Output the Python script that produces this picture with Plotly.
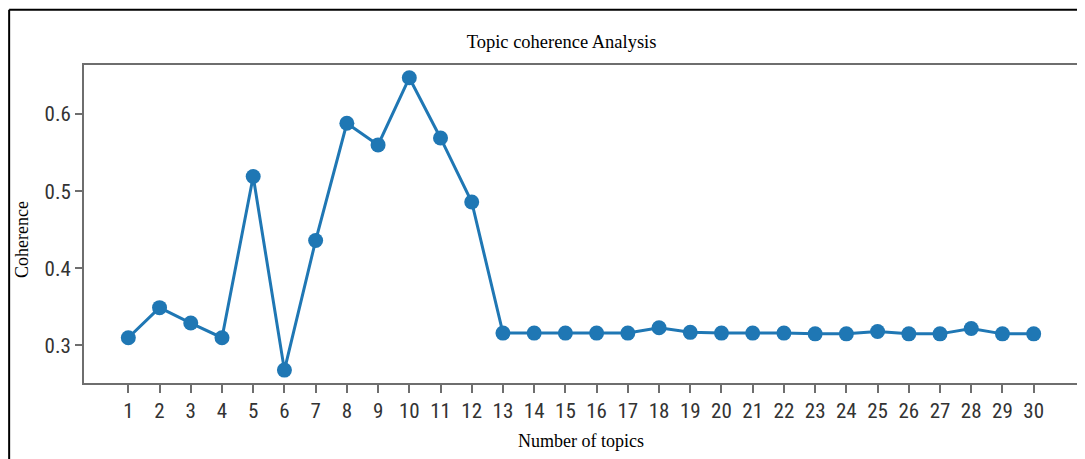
import plotly.graph_objects as go

topics = list(range(1, 31))
coherence = [0.310, 0.349, 0.329, 0.310, 0.519, 0.268, 0.436, 0.588, 0.560, 0.647,
             0.569, 0.486, 0.316, 0.316, 0.316, 0.316, 0.316, 0.323, 0.317, 0.316,
             0.316, 0.316, 0.315, 0.315, 0.318, 0.315, 0.315, 0.322, 0.315, 0.315]
y_ticks = [0.3, 0.4, 0.5, 0.6]
y_tick_labels = ["0.3", "0.4", "0.5", "0.6"]

BLUE = "#1f77b4"
AX = "#6e6e6e"
tick_font = dict(family="Roboto Condensed, Liberation Sans Narrow, DejaVu Sans Condensed, Roboto, sans-serif",
                 size=21, color="#333333")
serif = "Liberation Serif, Times New Roman, serif"

fig = go.Figure()
fig.add_trace(go.Scatter(
    x=topics, y=coherence, mode="lines+markers",
    line=dict(color=BLUE, width=3),
    marker=dict(color=BLUE, size=15),
    showlegend=False,
))

fig.update_layout(
    width=1077, height=451,
    margin=dict(l=76, r=5, t=57, b=76),
    paper_bgcolor="white", plot_bgcolor="white",
    title=dict(text="Topic coherence Analysis", x=0.514, xanchor="center",
               y=1 - 34 / 451, yanchor="middle",
               font=dict(family=serif, size=18.5, color="black")),
)
fig.update_xaxes(
    range=[-0.42, 31.42], tickmode="array", tickvals=topics,
    ticktext=[str(t) for t in topics],
    showgrid=False, zeroline=False,
    showline=True, mirror=True, linecolor=AX, linewidth=2,
    ticks="outside", ticklen=8, tickwidth=1.5, tickcolor=AX,
    tickfont=tick_font,
    title=dict(text="Number of topics", standoff=12,
               font=dict(family=serif, size=18, color="black")),
)
fig.update_yaxes(
    range=[0.2513, 0.6636], tickmode="array", tickvals=y_ticks,
    ticktext=y_tick_labels,
    showgrid=False, zeroline=False,
    showline=True, mirror=True, linecolor=AX, linewidth=2,
    ticks="outside", ticklen=7, tickwidth=1.5, tickcolor=AX,
    tickfont=tick_font,
)

fig.add_annotation(text="Coherence", xref="paper", yref="paper",
                   x=-0.0622, y=0.45, xanchor="center", yanchor="middle",
                   textangle=-90, showarrow=False,
                   font=dict(family=serif, size=18, color="black"))

# outer frame lines (left and top)
fig.add_shape(type="line", xref="paper", yref="paper",
              x0=-0.0753, x1=-0.0753, y0=1.174, y1=-0.3,
              line=dict(color="black", width=2))
fig.add_shape(type="line", xref="paper", yref="paper",
              x0=-0.0753, x1=1.02, y0=1.174, y1=1.174,
              line=dict(color="black", width=2))

fig.write_html("out.html")
